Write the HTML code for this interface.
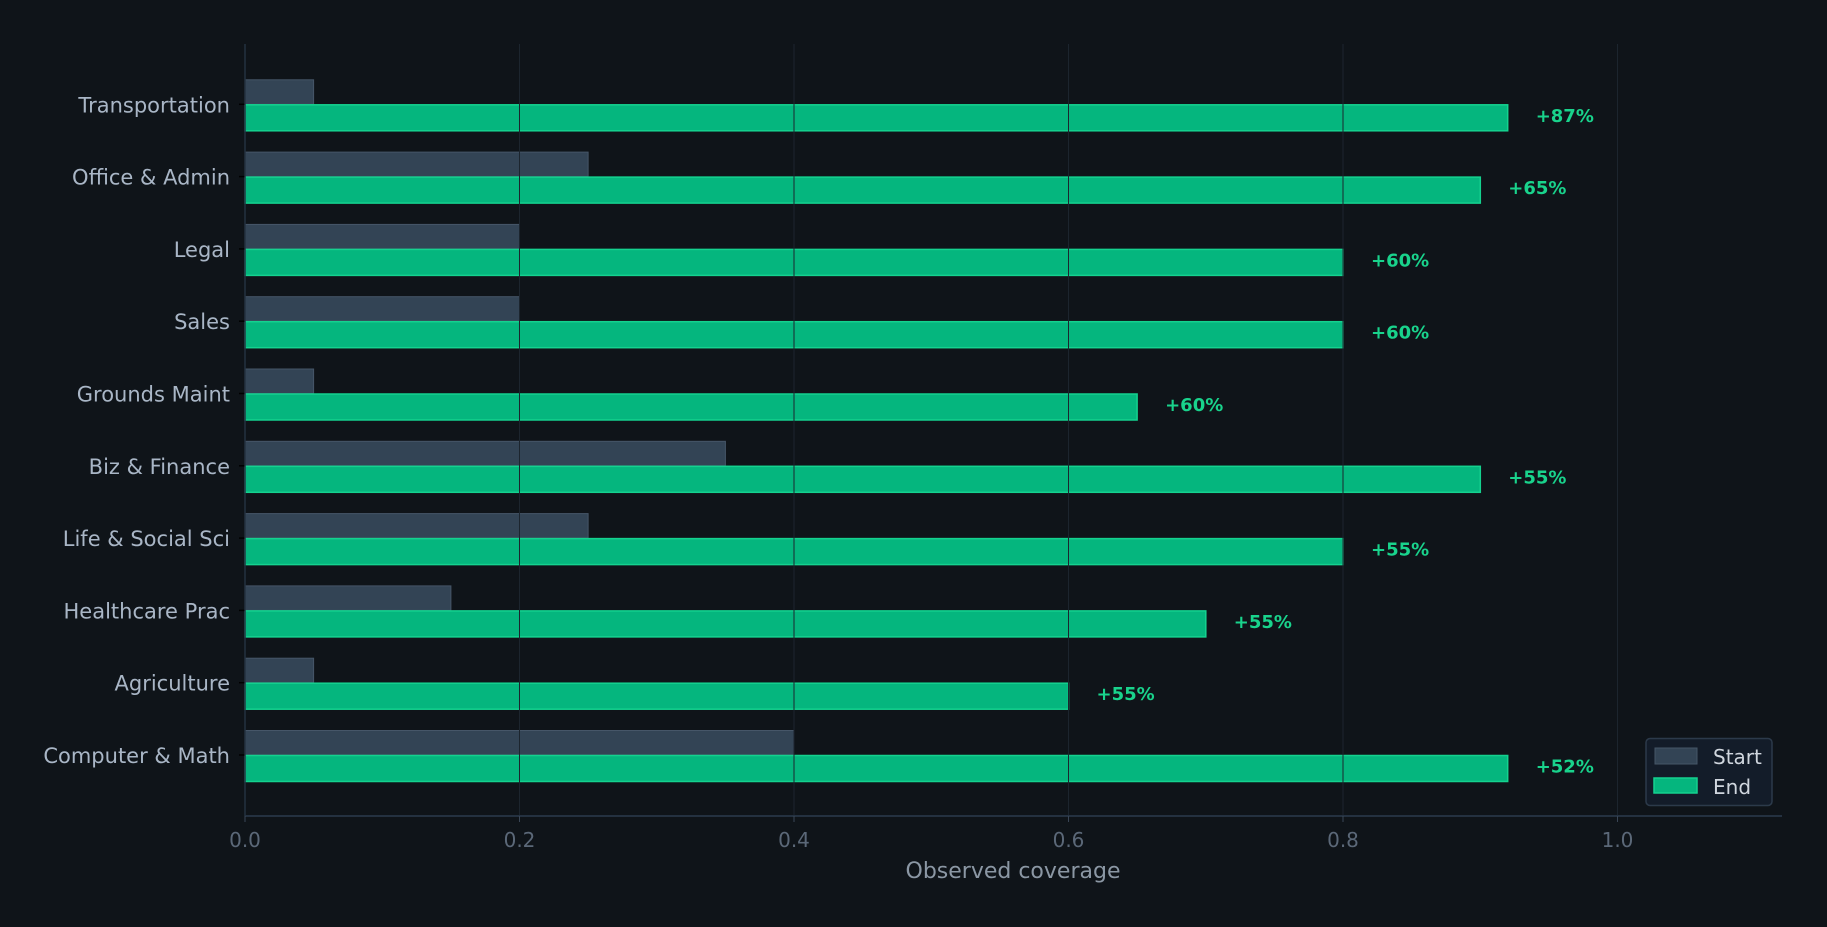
<!DOCTYPE html>
<html><head><meta charset="utf-8"><style>
html,body{margin:0;padding:0;background:#0f1419;}
svg{display:block;font-family:"DejaVu Sans","Liberation Sans",sans-serif;}
</style></head><body>
<svg width="1827" height="927" xmlns="http://www.w3.org/2000/svg">
<rect width="1827" height="927" fill="#0f1419"/>
<g fill="#334455" stroke="#465668" stroke-width="1">
<rect x="245" y="79.8" width="68.6" height="24.5"/>
<rect x="245" y="152.1" width="343.1" height="24.5"/>
<rect x="245" y="224.4" width="274.5" height="24.5"/>
<rect x="245" y="296.7" width="274.5" height="24.5"/>
<rect x="245" y="369" width="68.6" height="24.5"/>
<rect x="245" y="441.3" width="480.4" height="24.5"/>
<rect x="245" y="513.6" width="343.1" height="24.5"/>
<rect x="245" y="585.9" width="205.9" height="24.5"/>
<rect x="245" y="658.2" width="68.6" height="24.5"/>
<rect x="245" y="730.5" width="549" height="24.5"/>
</g>
<g fill="#05b67e" stroke="#14d28f" stroke-width="1.5">
<rect x="245" y="104.8" width="1262.7" height="26"/>
<rect x="245" y="177.1" width="1235.3" height="26"/>
<rect x="245" y="249.4" width="1098" height="26"/>
<rect x="245" y="321.7" width="1098" height="26"/>
<rect x="245" y="394" width="892.1" height="26"/>
<rect x="245" y="466.3" width="1235.3" height="26"/>
<rect x="245" y="538.6" width="1098" height="26"/>
<rect x="245" y="610.9" width="960.8" height="26"/>
<rect x="245" y="683.2" width="823.5" height="26"/>
<rect x="245" y="755.5" width="1262.7" height="26"/>
</g>
<g stroke="#1c252e" stroke-width="1">
<line x1="519.5" x2="519.5" y1="44" y2="816"/>
<line x1="794" x2="794" y1="44" y2="816"/>
<line x1="1068.5" x2="1068.5" y1="44" y2="816"/>
<line x1="1343" x2="1343" y1="44" y2="816"/>
<line x1="1617.5" x2="1617.5" y1="44" y2="816"/>
</g>
<g font-size="18" font-weight="bold" fill="#19d38c">
<text x="1535.7" y="121.8">+87%</text>
<text x="1508.3" y="194.1">+65%</text>
<text x="1371" y="266.4">+60%</text>
<text x="1371" y="338.7">+60%</text>
<text x="1165.1" y="411">+60%</text>
<text x="1508.3" y="483.3">+55%</text>
<text x="1371" y="555.6">+55%</text>
<text x="1233.8" y="627.9">+55%</text>
<text x="1096.5" y="700.2">+55%</text>
<text x="1535.7" y="772.5">+52%</text>
</g>
<g font-size="21" fill="#a9b6c6" text-anchor="end">
<text x="230" y="112.3">Transportation</text>
<text x="230" y="184.6">Office &amp; Admin</text>
<text x="230" y="256.9">Legal</text>
<text x="230" y="329.2">Sales</text>
<text x="230" y="401.5">Grounds Maint</text>
<text x="230" y="473.8">Biz &amp; Finance</text>
<text x="230" y="546.1">Life &amp; Social Sci</text>
<text x="230" y="618.4">Healthcare Prac</text>
<text x="230" y="690.7">Agriculture</text>
<text x="230" y="763">Computer &amp; Math</text>
</g>
<g stroke="#000" stroke-width="1.5">
<line x1="239" x2="245" y1="104.3" y2="104.3"/>
<line x1="239" x2="245" y1="176.6" y2="176.6"/>
<line x1="239" x2="245" y1="248.9" y2="248.9"/>
<line x1="239" x2="245" y1="321.2" y2="321.2"/>
<line x1="239" x2="245" y1="393.5" y2="393.5"/>
<line x1="239" x2="245" y1="465.8" y2="465.8"/>
<line x1="239" x2="245" y1="538.1" y2="538.1"/>
<line x1="239" x2="245" y1="610.4" y2="610.4"/>
<line x1="239" x2="245" y1="682.7" y2="682.7"/>
<line x1="239" x2="245" y1="755" y2="755"/>
</g>
<line x1="245" x2="245" y1="44" y2="816" stroke="#243140" stroke-width="1.5"/>
<line x1="245" x2="1782" y1="816" y2="816" stroke="#243140" stroke-width="2"/>
<g stroke="#3a4656" stroke-width="1">
<line x1="245" x2="245" y1="816" y2="822"/>
<line x1="519.5" x2="519.5" y1="816" y2="822"/>
<line x1="794" x2="794" y1="816" y2="822"/>
<line x1="1068.5" x2="1068.5" y1="816" y2="822"/>
<line x1="1343" x2="1343" y1="816" y2="822"/>
<line x1="1617.5" x2="1617.5" y1="816" y2="822"/>
</g>
<g font-size="20" fill="#5b6878" text-anchor="middle">
<text x="245" y="847">0.0</text>
<text x="519.5" y="847">0.2</text>
<text x="794" y="847">0.4</text>
<text x="1068.5" y="847">0.6</text>
<text x="1343" y="847">0.8</text>
<text x="1617.5" y="847">1.0</text>
</g>
<text x="1013" y="878" font-size="22" fill="#8b97a4" text-anchor="middle">Observed coverage</text>
<rect x="1646" y="738.5" width="126" height="67" rx="4" fill="#131c29" stroke="#2c3a4a" stroke-width="1.5"/>
<rect x="1655" y="748" width="42" height="16" fill="#334455" stroke="#465668"/>
<rect x="1654" y="778" width="43" height="15" fill="#05b67e" stroke="#14d28f" stroke-width="1.5"/>
<text x="1713" y="764" font-size="20" fill="#d0d6de">Start</text>
<text x="1713" y="794" font-size="20" fill="#d0d6de">End</text>
</svg>
</body></html>
